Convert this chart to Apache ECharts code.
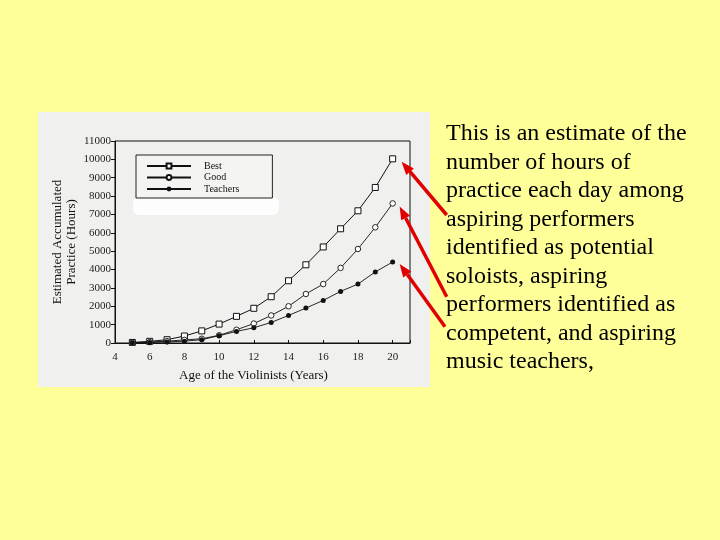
<!DOCTYPE html>
<html>
<head>
<meta charset="utf-8">
<script src="https://cdn.jsdelivr.net/npm/echarts@6/dist/echarts.min.js"></script>
<style>
html,body{margin:0;padding:0;background:#FFFF99;}
#c{width:720px;height:540px;}
</style>
</head>
<body>
<div id="c"></div>
<script>
// ---- data ----
const ages = [5,6,7,8,9,10,11,12,13,14,15,16,17,18,19,20];
const best = [30,90,180,380,660,1030,1450,1890,2520,3390,4260,5230,6220,7200,8470,10030];
const good = [20,50,100,170,230,420,720,1060,1500,2000,2670,3210,4090,5120,6300,7600];
const teachers = [10,30,60,100,180,400,630,830,1120,1500,1900,2320,2810,3210,3870,4410];
const seriesNames = ['Best','Good','Teachers'];
const yAxisTitle = 'Estimated Accumulated\nPractice (Hours)';
const xAxisTitle = 'Age of the Violinists (Years)';
const noteLines = [
  'This is an estimate of the',
  'number of hours of',
  'practice each day among',
  'aspiring performers',
  'identified as potential',
  'soloists, aspiring',
  'performers identified as',
  'competent, and aspiring',
  'music teachers,'
];

const pairs = arr => ages.map((a,i)=>[a,arr[i]]);
const serif = '"Liberation Serif", "DejaVu Serif", serif';

const chart = echarts.init(document.getElementById('c'), null, {renderer:'canvas'});

function baseGraphics(){
  const g = [];
  g.push({type:'rect', z:-10, silent:true, shape:{x:38,y:112,width:392,height:275}, style:{fill:'#F0F0EE'}});
  g.push({type:'rect', z:-9, silent:true, shape:{x:133,y:197,width:146,height:18,r:6}, style:{fill:'#FDFDFD'}});
  noteLines.forEach((t,i)=>{
    g.push({type:'text', x:446, y:141.7 + 28.55*i - 8, style:{text:t, font:'24px ' + serif, fill:'#000', align:'left', verticalAlign:'middle'}});
  });
  return g;
}

const option = {
  backgroundColor:'#FFFF99',
  animation:false,
  grid:{left:115, right:310, top:141, bottom:197, show:true, borderColor:'#111', borderWidth:1, backgroundColor:'transparent'},
  legend:{
    data:seriesNames, orient:'vertical', left:136, top:155,
    itemWidth:44, itemHeight:6, itemGap:1.5,
    padding:[6,33,4,10],
    borderColor:'#222', borderWidth:1, backgroundColor:'#F4F4F2',
    textStyle:{fontFamily:serif, fontSize:10, color:'#111', padding:[0,0,0,8]}
  },
  xAxis:{
    type:'value', min:4, max:21, interval:2,
    name:xAxisTitle, nameLocation:'middle', nameGap:26,
    nameTextStyle:{fontFamily:serif, fontSize:13, color:'#111', padding:[0,18,0,0]},
    axisLine:{show:true, lineStyle:{color:'#111', width:1}},
    axisTick:{show:true, inside:true, length:3, lineStyle:{color:'#111'}},
    axisLabel:{fontFamily:serif, fontSize:11, color:'#222', margin:9, formatter:v=> (v%2===0? String(v):'')},
    splitLine:{show:false}
  },
  yAxis:{
    type:'value', min:0, max:11000, interval:1000,
    name:yAxisTitle, nameLocation:'middle', nameGap:36, nameRotate:90,
    nameTextStyle:{fontFamily:serif, fontSize:13, color:'#111', lineHeight:14},
    axisLine:{show:true, lineStyle:{color:'#111', width:1}},
    axisTick:{show:true, inside:false, length:4, lineStyle:{color:'#111'}},
    axisLabel:{fontFamily:serif, fontSize:11, color:'#222', margin:4, formatter:v=>String(v)},
    splitLine:{show:false}
  },
  series:[
    {name:seriesNames[0], type:'line', data:pairs(best), symbol:'rect', symbolSize:6,
     lineStyle:{color:'#111', width:1}, itemStyle:{color:'#FFFFFF', borderColor:'#111', borderWidth:1}},
    {name:seriesNames[1], type:'line', data:pairs(good), symbol:'circle', symbolSize:5.5,
     lineStyle:{color:'#111', width:0.9}, itemStyle:{color:'#FFFFFF', borderColor:'#111', borderWidth:0.9}},
    {name:seriesNames[2], type:'line', data:pairs(teachers), symbol:'circle', symbolSize:5,
     lineStyle:{color:'#111', width:0.9}, itemStyle:{color:'#111'}}
  ],
  graphic:{elements: baseGraphics()}
};
chart.setOption(option);

// arrows pointing at the last point of each series
function arrow(tail, tip){
  const dx = tip[0]-tail[0], dy = tip[1]-tail[1];
  const L = Math.sqrt(dx*dx+dy*dy), ux = dx/L, uy = dy/L;
  const hl = 13, hw = 5;
  const bx = tip[0]-ux*hl, by = tip[1]-uy*hl;
  return [
    {type:'line', shape:{x1:tail[0], y1:tail[1], x2:bx, y2:by}, style:{stroke:'#E00000', lineWidth:3.5}},
    {type:'polygon', shape:{points:[tip, [bx - uy*hw, by + ux*hw], [bx + uy*hw, by - ux*hw]]}, style:{fill:'#E00000'}}
  ];
}
const lastIdx = ages.length-1;
const endBest = chart.convertToPixel({gridIndex:0}, [ages[lastIdx], best[lastIdx]]);
const endGood = chart.convertToPixel({gridIndex:0}, [ages[lastIdx], good[lastIdx]]);
const endTeach = chart.convertToPixel({gridIndex:0}, [ages[lastIdx], teachers[lastIdx]]);
const els = baseGraphics()
  .concat(arrow([446.7,215],[endBest[0]+9, endBest[1]+3]))
  .concat(arrow([446.7,296.7],[endGood[0]+7, endGood[1]+3]))
  .concat(arrow([445,326.7],[endTeach[0]+7, endTeach[1]+2]));
chart.setOption({graphic:{elements:els}}, {replaceMerge:['graphic']});
</script>
</body>
</html>
